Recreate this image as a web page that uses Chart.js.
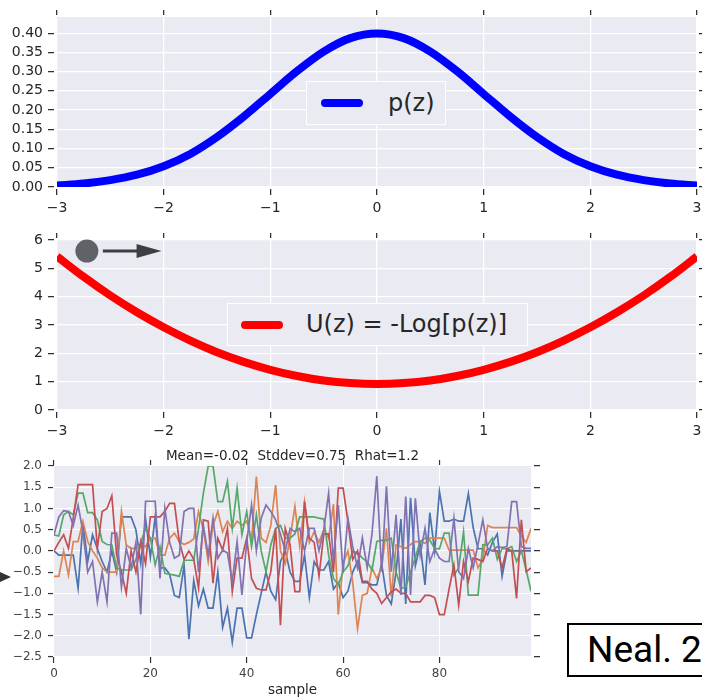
<!DOCTYPE html>
<html>
<head>
<meta charset="utf-8">
<script src="https://cdn.jsdelivr.net/npm/chart.js@4.4.1/dist/chart.umd.min.js"></script>
<style>
  body { margin: 0; background: #fff; }
  #page { position: relative; width: 702px; height: 698px; overflow: hidden; font-family: 'DejaVu Sans', sans-serif; }
  #page canvas { position: absolute; }
  .legend { position: absolute; box-sizing: border-box; background: #eaeaf2; border: 1px solid #ffffff; color: #262626; font-size: 24px; }
  .legend .swatch { position: absolute; height: 8px; border-radius: 4px; }
  .legend .label { position: absolute; top: 0; white-space: nowrap; }
  #neal { position: absolute; left: 567px; top: 623px; width: 150px; height: 54px; box-sizing: border-box; border: 2px solid #000; font-family: Roboto, sans-serif; font-size: 37px; line-height: 50px; padding-left: 18px; color: #000; white-space: nowrap; }
  #tip { position: absolute; left: 0; top: 572px; width: 0; height: 0; border-top: 5px solid transparent; border-bottom: 5px solid transparent; border-left: 11px solid #333; }
</style>
</head>
<body>
<div id="page">
  <canvas id="density" width="702" height="215" style="left:0;top:0"></canvas>
  <canvas id="energy" width="702" height="218" style="left:0;top:222px"></canvas>
  <canvas id="trace" width="545" height="254" style="left:0;top:444px"></canvas>
  <div id="tip"></div>
  <div id="neal">Neal. 2</div>
</div>
<script>
'use strict';

//z grid used by the two curves on top
var zValues = [-3, -2.75, -2.5, -2.25, -2, -1.75, -1.5, -1.25, -1, -0.75, -0.5, -0.25, 0,
  0.25, 0.5, 0.75, 1, 1.25, 1.5, 1.75, 2, 2.25, 2.5, 2.75, 3];

//p(z)
var densityValues = [0.004, 0.009, 0.018, 0.032, 0.054, 0.086, 0.130, 0.183, 0.242, 0.301, 0.352, 0.387, 0.399,
  0.387, 0.352, 0.301, 0.242, 0.183, 0.130, 0.086, 0.054, 0.032, 0.018, 0.009, 0.004];

//U(z)
var energyValues = [5.42, 4.70, 4.04, 3.45, 2.92, 2.45, 2.04, 1.70, 1.42, 1.20, 1.04, 0.95, 0.92,
  0.95, 1.04, 1.20, 1.42, 1.70, 2.04, 2.45, 2.92, 3.45, 4.04, 4.70, 5.42];

//tick values
var zTicks = [-3, -2, -1, 0, 1, 2, 3];
var densityTicks = [0, 0.05, 0.1, 0.15, 0.2, 0.25, 0.3, 0.35, 0.4];
var energyTicks = [0, 1, 2, 3, 4, 5, 6];
var sampleTicks = [0, 20, 40, 60, 80];
var traceTicks = [-2.5, -2, -1.5, -1, -0.5, 0, 0.5, 1, 1.5, 2];

//five chains, 100 samples each
var chainBlue = [0.0, -0.1, -0.1, -0.1, -0.1, -0.88, 0.65, -0.25, 0.38, 0.05,
  -0.25, -0.5, 0.0, -0.5, 0.8, 0.8, 0.8, 0.5, -0.3, 0.75,
  -0.15, 0.8, -0.4, -0.4, -0.55, -1.05, -1.1, -0.35, -2.08, -0.7,
  -1.3, -0.9, -1.35, -1.35, -0.5, -1.8, -1.35, -2.15, -1.35, -1.35,
  -2.05, -2.05, -1.5, -1.0, -0.5, -0.95, -1.15, -0.25, 0.0, -0.5,
  -0.72, -0.72, -0.1, -1.1, -0.25, -0.45, -0.45, -0.25, -0.9, -0.75,
  -1.1, -0.95, -0.5, -0.25, -0.75, -0.75, -0.8, -0.8, -0.3, -1.05,
  -1.25, -0.5, 0.75, -1.25, 1.25, -0.35, 0.15, -0.8, 0.9, 0.0,
  1.4, 0.7, 0.7, 0.75, 0.7, 0.7, 1.35, 0.55, 0.05, 0.05,
  -0.1, 0.2, 0.4, -0.6, 0.0, 0.0, 0.0, 0.0, 0.0, 0.0];
var chainOrange = [-0.6, -0.6, 0.0, -0.57, 0.22, 0.22, 0.7, 0.22, 0.0, -0.17,
  -0.4, -0.5, -0.5, -0.5, 0.93, 0.14, 0.06, 0.06, 0.14, 0.1,
  0.3, 0.3, -0.1, -0.1, 0.3, 0.42, 0.22, 0.15, 0.2, 0.28,
  0.93, 0.5, -0.25, 0.6, 0.93, 0.45, 0.7, 0.53, 0.7, 0.6,
  0.7, 0.25, 1.75, 0.3, 0.2, 0.6, 1.55, 0.0, -0.3, 0.3,
  1.05, 0.1, 1.15, 0.2, 0.45, 0.2, 0.5, 0.3, 1.1, -1.5,
  -0.3, 0.0, -0.75, -1.83, -1.05, -1.0, -0.4, -0.65, -0.4, 0.53,
  -1.08, 0.14, 0.1, 0.06, 0.15, 0.22, 0.22, 0.18, 0.3, 0.3,
  0.3, 0.3, 0.02, 0.02, 0.02, 0.02, 0.02, 0.02, -0.4, -0.2,
  0.6, 0.55, 0.55, 0.55, 0.55, 0.55, 0.55, 0.35, 0.2, 0.53];
var chainGreen = [0.38, 0.35, 0.85, 0.93, 0.85, 1.36, 1.36, 0.9, 0.9, 0.73,
  0.22, 0.15, 0.14, -0.4, -0.45, -0.45, -0.45, -0.2, 0.2, 0.53,
  0.3, -0.33, 0.1, -0.53, -0.55, -0.57, -0.6, -0.22, -0.22, -0.22,
  0.53, 1.36, 2.0, 2.0, 1.16, 1.16, 1.64, 0.53, 1.48, 0.38,
  0.93, 0.1, 0.85, 0.0, -0.49, 0.14, 0.53, 0.6, 0.3, 0.3,
  0.4, 0.8, 0.8, 0.8, 0.8, 0.77, 0.75, -0.1, -0.65, -0.8,
  -0.5, -0.35, 0.0, -0.05, -0.17, -0.25, -0.45, 0.22, 0.25, 0.25,
  0.3, -0.5, -0.88, -0.85, -0.5, -0.15, 0.22, 0.3, 0.25, 0.06,
  0.05, 0.42, 0.42, -0.57, -0.4, 0.45, -1.04, -1.04, -1.04, 0.14,
  0.14, 0.3, -0.2, 0.05, 0.05, 0.1, -0.25, 0.0, -0.45, -0.95];
var chainRed = [0.0, 0.2, 0.38, 0.06, 0.77, 1.56, 1.56, 1.56, 1.56, 0.06,
  0.93, 1.0, 1.3, -0.1, -0.5, -1.0, 0.0, -0.5, 0.22, -0.3,
  0.8, 0.8, 0.8, 0.93, 1.12, 1.12, 0.22, -0.2, 0.0, -0.2,
  -0.88, 0.73, 0.7, -0.76, 0.3, 0.02, 0.53, -0.96, -0.17, -0.17,
  0.3, -0.65, -0.88, -0.92, -0.92, -0.49, 0.53, -1.75, 0.53, 0.14,
  -0.96, -0.96, 1.16, 0.3, 0.2, -0.6, 0.4, 0.4, -0.5, 1.48,
  1.48, 0.7, -0.2, 0.0, -0.72, -0.72, -0.9, -1.0, -1.24, -1.1,
  -0.96, -0.9, -1.0, -1.0, -1.2, -1.2, -1.2, -1.05, -1.05, -1.1,
  -1.5, -1.5, -0.9, -0.33, -1.28, -0.25, -0.72, -0.17, -0.2, -0.25,
  0.06, 0.0, 0.0, -0.4, 0.05, 0.0, -1.12, 0.73, -0.49, -0.4];
var chainPurple = [0.38, 0.8, 0.95, 0.93, 0.6, 1.08, 0.45, -0.5, -0.25, -1.2,
  -0.5, -1.2, 0.42, 0.42, -0.85, 0.06, -0.4, 0.2, -1.5, 1.17,
  1.17, 1.17, -0.65, 1.0, 0.2, -0.17, -0.1, 0.93, 1.0, 1.0,
  -0.5, 0.6, -0.1, 0.77, -0.17, 0.02, -0.05, -0.72, 0.22, -1.04,
  0.22, 1.08, 0.0, 0.77, 1.08, 0.93, 0.73, 0.4, 0.0, 0.53,
  0.45, 0.53, 0.0, 0.53, 0.53, 0.0, 0.5, 1.36, -0.25, 1.08,
  -0.5, 0.77, 0.1, -0.4, 0.3, -0.4, 0.4, 1.76, -0.49, 1.52,
  -0.49, 0.85, -1.04, 1.28, -1.04, 1.24, -0.1, 0.53, -0.25, 0.05,
  -0.17, -0.25, -0.25, 0.77, -0.49, -0.65, 0.06, -0.4, 0.15, 0.73,
  0.06, 0.0, 0.1, 0.08, 0.1, 1.16, 1.16, 0.1, 0.06, 0.06];

var chains = [chainBlue, chainOrange, chainGreen, chainRed, chainPurple];
var chainColors = ['#4c72b0', '#dd8452', '#55a868', '#c44e52', '#8172b2'];
var traceTitle = 'Mean=-0.02  Stddev=0.75  Rhat=1.2';

//ball and arrow drawn on the energy panel, in data units
var ballNote = { z: -2.72, u: 5.61, tailZ: -2.57, tipZ: -2.02 };

//gray plot background like seaborn
var plotBackground = {
  id: 'plotBackground',
  beforeDraw: function (chart) {
    var a = chart.chartArea;
    var ctx = chart.ctx;
    ctx.save();
    ctx.fillStyle = '#eaeaf2';
    ctx.fillRect(a.left, a.top, a.right - a.left, a.bottom - a.top);
    ctx.restore();
  }
};

var ballPlugin = {
  id: 'ballNote',
  afterDatasetsDraw: function (chart) {
    var ctx = chart.ctx;
    var xs = chart.scales.x;
    var ys = chart.scales.y;
    var cx = xs.getPixelForValue(ballNote.z);
    var cy = ys.getPixelForValue(ballNote.u);
    var x0 = xs.getPixelForValue(ballNote.tailZ);
    var x1 = xs.getPixelForValue(ballNote.tipZ);
    ctx.save();
    ctx.fillStyle = '#5f6368';
    ctx.beginPath();
    ctx.arc(cx, cy, 11.5, 0, Math.PI * 2);
    ctx.fill();
    ctx.strokeStyle = '#3c4043';
    ctx.fillStyle = '#3c4043';
    ctx.lineWidth = 3;
    ctx.beginPath();
    ctx.moveTo(x0, cy);
    ctx.lineTo(x1 - 20, cy);
    ctx.stroke();
    ctx.beginPath();
    ctx.moveTo(x1, cy);
    ctx.lineTo(x1 - 25, cy - 7);
    ctx.lineTo(x1 - 25, cy + 7);
    ctx.closePath();
    ctx.fill();
    ctx.restore();
  }
};

function fmtFixed(d) {
  return function (v) {
    return Number(v).toFixed(d).replace('-', '\u2212');
  };
}

//one axis, sizes forced so the plot areas land where the picture has them
function buildAxis(spec) {
  var horizontal = spec.pos === 'top' || spec.pos === 'bottom';
  var primary = spec.pos === 'bottom' || spec.pos === 'left';
  var outerFirst = spec.pos === 'top' || spec.pos === 'left';
  var dash = [];
  if (spec.gap) {
    dash = outerFirst ? [spec.tick, 100] : [0, spec.gap, spec.tick, 100];
  }
  var axis = {
    type: 'linear',
    position: spec.pos,
    min: spec.min,
    max: spec.max,
    afterBuildTicks: function (scale) {
      scale.ticks = spec.ticks.map(function (v) { return { value: v }; });
    },
    afterFit: function (scale) {
      if (horizontal) {
        scale.height = spec.size;
      } else {
        scale.width = spec.size;
      }
      scale.paddingLeft = 0;
      scale.paddingRight = 0;
      scale.paddingTop = 0;
      scale.paddingBottom = 0;
    },
    border: { display: false },
    grid: {
      drawOnChartArea: primary,
      color: '#ffffff',
      lineWidth: spec.gridWidth,
      tickLength: spec.tick + spec.gap,
      tickColor: spec.tickColor,
      tickWidth: 1.2,
      tickBorderDash: dash
    },
    ticks: {
      display: primary,
      autoSkip: false,
      maxRotation: 0,
      padding: spec.pad,
      color: spec.labelColor,
      font: { family: 'DejaVu Sans', size: spec.fontSize },
      callback: spec.format
    }
  };
  if (spec.title) {
    axis.title = spec.title;
  }
  return axis;
}

function curveScales(yMin, yMax, yTicks, yFormat, topSize, bottomSize) {
  var base = { gridWidth: 1.3, tickColor: '#262626', labelColor: '#262626', fontSize: 14, gap: 2 };
  function s(extra) { return Object.assign({}, base, extra); }
  return {
    x: buildAxis(s({ pos: 'bottom', min: -3, max: 3, ticks: zTicks, format: fmtFixed(0), size: bottomSize, tick: 6, pad: 5 })),
    x2: buildAxis(s({ pos: 'top', min: -3, max: 3, ticks: zTicks, format: fmtFixed(0), size: topSize, tick: 5, pad: 0 })),
    y: buildAxis(s({ pos: 'left', min: yMin, max: yMax, ticks: yTicks, format: yFormat, size: 57, tick: 6, pad: 5, gap: 3 })),
    y2: buildAxis(s({ pos: 'right', min: yMin, max: yMax, ticks: yTicks, format: yFormat, size: 5, tick: 6, pad: 0 }))
  };
}

function curveChart(id, label, color, values, scales, extraPlugins) {
  var points = zValues.map(function (z, i) { return { x: z, y: values[i] }; });
  return new Chart(document.getElementById(id), {
    type: 'line',
    data: {
      datasets: [{
        label: label,
        data: points,
        borderColor: color,
        borderWidth: 8,
        pointRadius: 0,
        fill: false,
        cubicInterpolationMode: 'monotone'
      }]
    },
    options: {
      responsive: false,
      animation: false,
      events: [],
      layout: { padding: 0 },
      plugins: { legend: { display: false }, tooltip: { enabled: false } },
      scales: scales
    },
    plugins: [plotBackground].concat(extraPlugins)
  });
}

//html legend box, text taken from the dataset
function addLegend(chart, box) {
  var ds = chart.data.datasets[0];
  var wrap = document.createElement('div');
  wrap.className = 'legend';
  wrap.style.left = box.left + 'px';
  wrap.style.top = box.top + 'px';
  wrap.style.width = box.width + 'px';
  wrap.style.height = box.height + 'px';
  var swatch = document.createElement('span');
  swatch.className = 'swatch';
  swatch.style.background = ds.borderColor;
  swatch.style.left = box.swatchLeft + 'px';
  swatch.style.width = box.swatchWidth + 'px';
  swatch.style.top = ((box.height - 2 - 8) / 2) + 'px';
  var text = document.createElement('span');
  text.className = 'label';
  text.style.left = box.textLeft + 'px';
  text.style.lineHeight = (box.height - 2) + 'px';
  text.textContent = ds.label;
  wrap.appendChild(swatch);
  wrap.appendChild(text);
  document.getElementById('page').appendChild(wrap);
}

var densityChart = curveChart('density', 'p(z)', '#0000ff', densityValues,
  curveScales(0, 0.442, densityTicks, fmtFixed(2), 17, 28), []);
var energyChart = curveChart('energy', 'U(z) = -Log[p(z)]', '#ff0000', energyValues,
  curveScales(0, 6, energyTicks, fmtFixed(0), 18, 30), [ballPlugin]);

addLegend(densityChart, { left: 306, top: 81, width: 140, height: 44, swatchLeft: 14, swatchWidth: 42, textLeft: 81 });
addLegend(energyChart, { left: 227, top: 303, width: 301, height: 43, swatchLeft: 13, swatchWidth: 42, textLeft: 78 });

//trace plot
var traceBase = { gridWidth: 1.1, tickColor: '#333333', labelColor: '#444444', fontSize: 12 };
function ts(extra) { return Object.assign({}, traceBase, extra); }
var titleFont = { family: 'DejaVu Sans', size: 13.5 };

var traceDatasets = chains.map(function (chain, i) {
  return {
    label: 'chain ' + (i + 1),
    data: chain.map(function (v, n) { return { x: n, y: v }; }),
    borderColor: chainColors[i],
    borderWidth: 1.7,
    pointRadius: 0,
    tension: 0,
    fill: false,
    order: chains.length - i
  };
});

var traceChart = new Chart(document.getElementById('trace'), {
  type: 'line',
  data: { datasets: traceDatasets },
  options: {
    responsive: false,
    animation: false,
    events: [],
    layout: { padding: 0 },
    plugins: { legend: { display: false }, tooltip: { enabled: false } },
    scales: {
      x: buildAxis(ts({ pos: 'bottom', min: 0, max: 99, ticks: sampleTicks, format: fmtFixed(0), size: 41, tick: 6, gap: 0, pad: 4,
        title: { display: true, text: 'sample', color: '#262626', font: titleFont, padding: { top: 0, bottom: -1 } } })),
      x2: buildAxis(ts({ pos: 'top', min: 0, max: 99, ticks: sampleTicks, format: fmtFixed(0), size: 22, tick: 6, gap: 0, pad: 0,
        title: { display: true, text: traceTitle, color: '#262626', font: titleFont, padding: { top: 4, bottom: 0 } } })),
      y: buildAxis(ts({ pos: 'left', min: -2.5, max: 2.0, ticks: traceTicks, format: fmtFixed(1), size: 54, tick: 5, gap: 1, pad: 6 })),
      y2: buildAxis(ts({ pos: 'right', min: -2.5, max: 2.0, ticks: traceTicks, format: fmtFixed(1), size: 14, tick: 6, gap: 3, pad: 0 }))
    }
  },
  plugins: [plotBackground]
});
</script>
</body>
</html>
